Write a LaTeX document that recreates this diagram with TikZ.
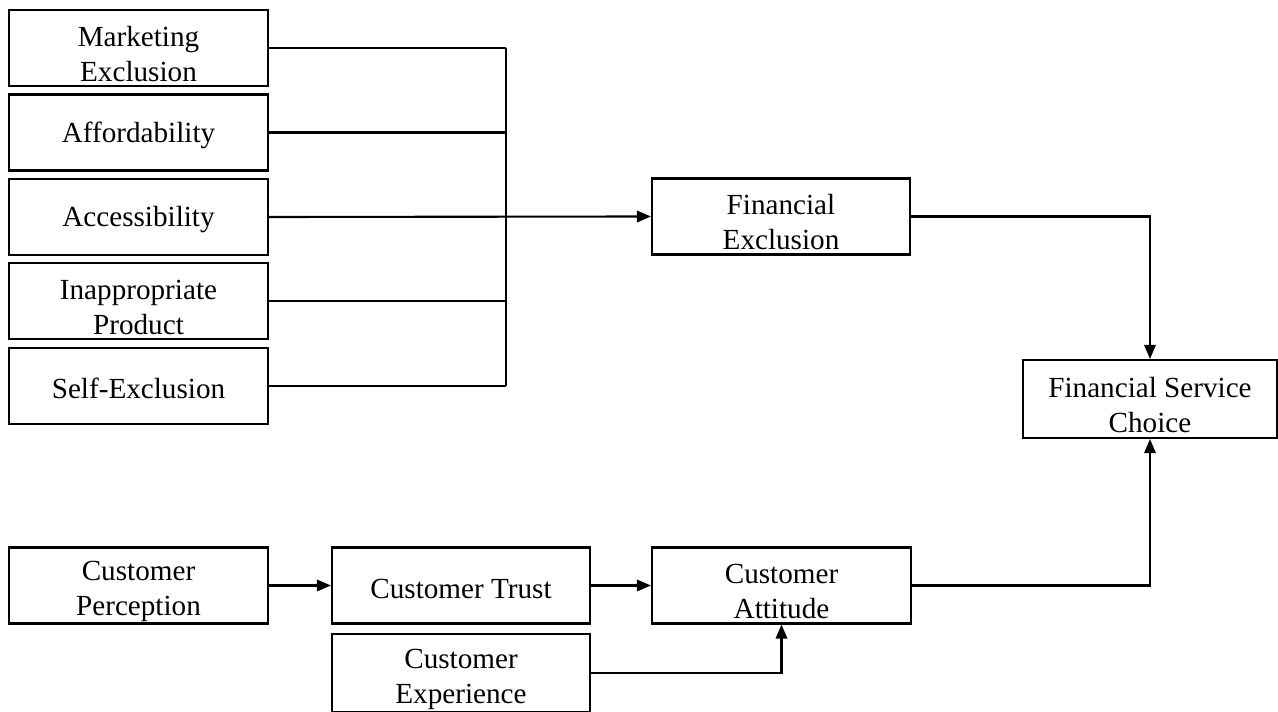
\documentclass[tikz,border=0pt]{standalone}
\usepackage{fontspec}
\setmainfont{Liberation Serif}
\usetikzlibrary{arrows.meta, positioning, calc}
\newcommand{\onel}{\rule{0pt}{14.7pt}}
\newcommand{\twol}{\rule{0pt}{18.1pt}}

\begin{document}
\begin{tikzpicture}[x=0.02cm, y=-0.02cm,
		font=\fontsize{16.6}{20}\selectfont,
		factor/.style={draw=black, line width=1.2pt, align=center, inner sep=0pt,
			minimum width=5.18cm, minimum height=1.52cm},
		link/.style={line width=1.2pt},
		flow/.style={line width=1.2pt, -{Triangle[length=8pt, width=6.5pt]}}]
	
	\useasboundingbox (0,0) rectangle (1278,712);
	
	% Facteurs d'exclusion
	\node[factor] (mkt)   at (138.5,48)    {\twol Marketing\\Exclusion};
	\node[factor] (aff)   at (138.5,132.5) {\onel Affordability};
	\node[factor] (acc)   at (138.5,217)   {\onel Accessibility};
	\node[factor] (inapp) at (138.5,301)   {\twol Inappropriate\\Product};
	\node[factor] (self)  at (138.5,386)   {\onel Self-Exclusion};
	
	% Variables centrales
	\node[factor, minimum width=5.16cm] (finexc) at (781,216.5) {\twol Financial\\Exclusion};
	\node[factor, minimum width=5.08cm, minimum height=1.56cm] (fsc) at (1150,399) {\twol Financial Service\\Choice};
	
	% Chaine client
	\node[factor] (perc)  at (138.5,585.5) {\twol Customer\\Perception};
	\node[factor, minimum width=5.16cm] (trust) at (461,585.5) {\onel Customer Trust};
	\node[factor, minimum width=5.18cm] (att)   at (781.5,585.5) {\twol Customer\\Attitude};
	\node[factor, minimum width=5.16cm, minimum height=1.56cm] (exp) at (461,673) {\twol Customer\\Experience};
	
	% Bus vertical
	\coordinate (bus) at (506,0);
	\draw[link] (mkt.east) -- (mkt.east -| bus);
	\draw[link] (aff.east) -- (aff.east -| bus);
	\draw[link] (inapp.east) -- (inapp.east -| bus);
	\draw[link] (self.east) -- (self.east -| bus);
	\draw[link] (mkt.east -| bus) -- (self.east -| bus);
	\draw[flow] (acc.east) -- (finexc.west);
	
	% Fleches
	\draw[flow] (finexc.east) -| (fsc.north);
	\draw[flow] (perc.east) -- (trust.west);
	\draw[flow] (trust.east) -- (att.west);
	\draw[flow] (exp.east) -| (att.south);
	\draw[flow] (att.east) -| (fsc.south);
	
\end{tikzpicture}
\end{document}
